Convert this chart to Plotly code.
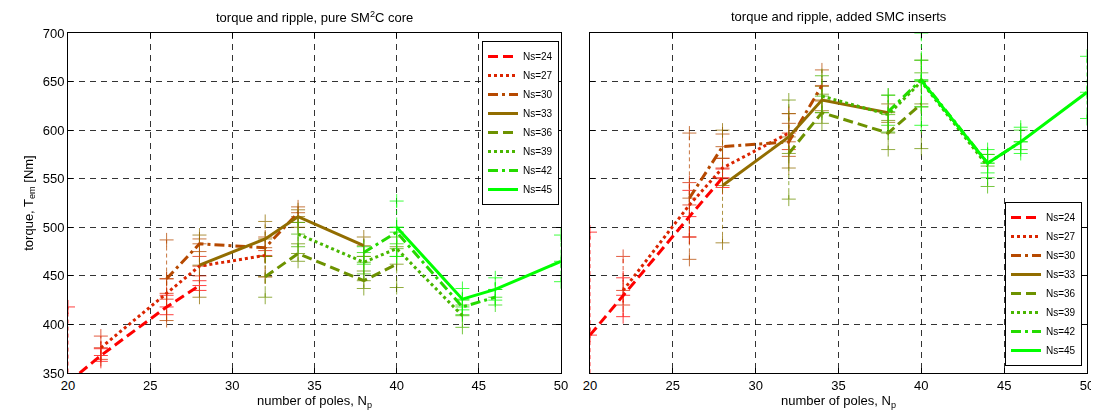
import plotly.graph_objects as go

# ---------------- data ----------------
NS = [24, 27, 30, 33, 36, 39, 42, 45]
POLES = [
    [20, 22, 26, 28],
    [22, 26, 28, 32],
    [26, 28, 32, 34],
    [28, 32, 34, 38],
    [32, 34, 38, 40],
    [34, 38, 40, 44],
    [38, 40, 44, 46],
    [40, 44, 46, 50],
]

# pure SM2C core
LEFT_MEAN = [
    [340, 368, 418, 440],
    [376, 432, 460, 471],
    [447, 483, 479, 515],
    [461, 488, 511, 481],
    [449, 473, 445, 462],
    [493, 464, 478, 409],
    [474, 495, 418, 428],
    [500, 426, 436, 465],
]
LEFT_MAX = [
    [418, 375, 430, 445],
    [388, 447, 470, 476],
    [487, 488, 490, 521],
    [492, 506, 518, 490],
    [470, 483, 455, 480],
    [505, 470, 490, 420],
    [480, 500, 425, 436],
    [527, 437, 448, 492],
]
LEFT_MIN = [
    [300, 362, 410, 435],
    [364, 426, 450, 449],
    [404, 475, 470, 505],
    [428, 470, 500, 470],
    [428, 465, 437, 438],
    [480, 452, 470, 397],
    [462, 483, 410, 420],
    [470, 415, 425, 444],
]

# added SMC inserts
RIGHT_MEAN = [
    [389, 430, 511, 551],
    [435, 523, 561, 597],
    [530, 583, 588, 646],
    [543, 593, 631, 618],
    [576, 618, 597, 627],
    [635, 616, 650, 563],
    [619, 652, 566, 588],
    [651, 566, 588, 639],
]
RIGHT_MAX = [
    [495, 448, 538, 560],
    [470, 546, 571, 617],
    [597, 596, 607, 662],
    [600, 617, 645, 627],
    [631, 637, 610, 672],
    [656, 636, 659, 575],
    [636, 672, 575, 600],
    [700, 580, 603, 676],
]
RIGHT_MIN = [
    [285, 408, 490, 541],
    [420, 490, 550, 580],
    [467, 571, 573, 630],
    [484, 561, 620, 608],
    [529, 607, 580, 581],
    [618, 598, 624, 542],
    [605, 624, 551, 580],
    [605, 556, 576, 612],
]

TITLES = ["torque and ripple, pure SM<sup>2</sup>C core",
          "torque and ripple, added SMC inserts"]
X_TICKS = [20, 25, 30, 35, 40, 45, 50]
Y_TICKS = [350, 400, 450, 500, 550, 600, 650, 700]

# ---------------- styles ----------------
COLORS = ["#FF0000", "#DB2400", "#B64900", "#926D00",
          "#6D9200", "#49B600", "#24DB00", "#00FF00"]
DASHES = ["10px,5px", "3px,3px", "10px,4px,3px,4px", "solid",
          "10px,5px", "3px,3px", "10px,4px,3px,4px", "solid"]

FONT = "Liberation Sans, Arial, sans-serif"

fig = go.Figure()

panels = [
    ("x", "y", "legend", LEFT_MEAN, LEFT_MAX, LEFT_MIN),
    ("x2", "y2", "legend2", RIGHT_MEAN, RIGHT_MAX, RIGHT_MIN),
]

for xa, ya, lg, MEAN, MAX, MIN in panels:
    for i, ns in enumerate(NS):
        c = COLORS[i]
        vx, vy = [], []
        for p, lo, hi in zip(POLES[i], MIN[i], MAX[i]):
            vx += [p, p, None]
            vy += [lo, hi, None]
        fig.add_trace(go.Scatter(
            x=vx, y=vy, mode="lines", xaxis=xa, yaxis=ya,
            line=dict(color=c, width=1, dash="4px,3px"),
            opacity=0.75, showlegend=False, hoverinfo="skip"))
        mx, my = [], []
        for p, lo, m, hi in zip(POLES[i], MIN[i], MEAN[i], MAX[i]):
            mx += [p, p, p]
            my += [lo, m, hi]
        fig.add_trace(go.Scatter(
            x=mx, y=my, mode="markers", xaxis=xa, yaxis=ya,
            marker=dict(symbol="cross-thin", size=10,
                        line=dict(color=c, width=1)),
            opacity=0.75, showlegend=False, hoverinfo="skip"))
    for i, ns in enumerate(NS):
        fig.add_trace(go.Scatter(
            x=POLES[i], y=MEAN[i], mode="lines", xaxis=xa, yaxis=ya,
            name=f"Ns={ns}", legend=lg,
            line=dict(color=COLORS[i], width=3, dash=DASHES[i])))

axis_common = dict(
    showline=True, linecolor="black", linewidth=1, mirror="ticks",
    ticks="inside", ticklen=5, tickcolor="black", automargin=False,
    showgrid=True, gridcolor="rgba(0,0,0,0.8)", gridwidth=1, griddash="6px,5px",
    zeroline=False, tickfont=dict(family=FONT, size=13, color="black"),
)

# page body has an 8px margin: work in reference pixels, shift by OFF
OFF = 8
W, H = 1099 - OFF, 419 - OFF
ML, MT = 68 - OFF, 33 - OFF
MR = W - (1087 - OFF)
MB = H - (373 - OFF)
PW = W - ML - MR
PH = H - MT - MB


def px_x(ref_px):
    return (ref_px - OFF - ML) / PW


def px_y(ref_px):
    return 1 - (ref_px - OFF - MT) / PH


fig.update_layout(
    width=W, height=H,
    margin=dict(l=ML, r=MR, t=MT, b=MB, autoexpand=False),
    paper_bgcolor="white", plot_bgcolor="white",
    font=dict(family=FONT, size=12, color="black"),
    xaxis=dict(axis_common, domain=[px_x(68), px_x(561)], range=[20, 50],
               tickvals=X_TICKS, anchor="y",
               title=dict(text="number of poles, N<sub>p</sub>",
                          font=dict(family=FONT, size=13), standoff=4)),
    yaxis=dict(axis_common, domain=[0, 1], range=[350, 700],
               tickvals=Y_TICKS, anchor="x",
               title=dict(text="torque, T<sub>em</sub> [Nm]",
                          font=dict(family=FONT, size=13), standoff=6)),
    xaxis2=dict(axis_common, domain=[px_x(590), px_x(1087)], range=[20, 50],
                tickvals=X_TICKS, anchor="y2",
                title=dict(text="number of poles, N<sub>p</sub>",
                           font=dict(family=FONT, size=13), standoff=4)),
    yaxis2=dict(axis_common, domain=[0, 1], range=[350, 700],
                tickvals=Y_TICKS, showticklabels=False, anchor="x2"),
    legend=dict(x=px_x(559), y=px_y(41),
                xanchor="right", yanchor="top",
                bgcolor="white", bordercolor="black", borderwidth=1,
                font=dict(family=FONT, size=10), tracegroupgap=0,
                itemwidth=30),
    legend2=dict(x=px_x(1082), y=px_y(366),
                 xanchor="right", yanchor="bottom",
                 bgcolor="white", bordercolor="black", borderwidth=1,
                 font=dict(family=FONT, size=10), tracegroupgap=0,
                 itemwidth=30),
    showlegend=True,
)

for t, x0, x1 in [(TITLES[0], 68, 561), (TITLES[1], 590, 1087)]:
    fig.add_annotation(text=t, x=px_x((x0 + x1) / 2), y=px_y(17),
                       xref="paper", yref="paper", showarrow=False,
                       xanchor="center", yanchor="middle",
                       font=dict(family=FONT, size=13, color="black"))

fig.write_html("out.html")
